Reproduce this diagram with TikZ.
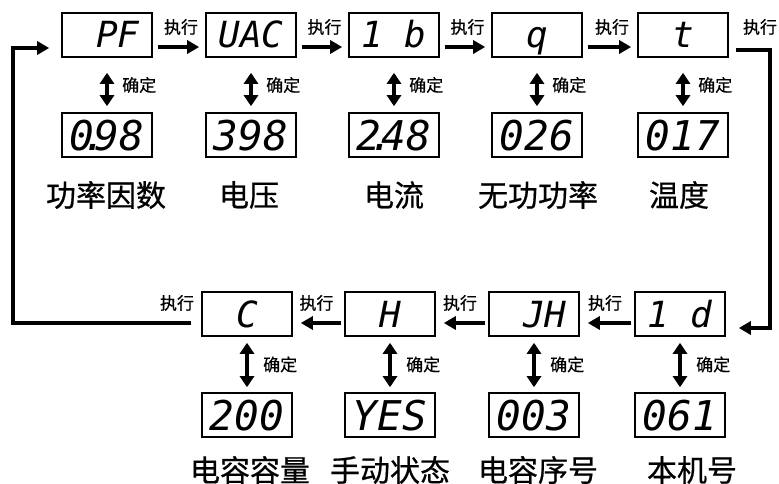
\documentclass[tikz,border=0pt]{standalone}
\usepackage{fontspec}
\newfontfamily\cjk[FakeBold=0.6]{Noto Sans CJK SC}
\newfontfamily\seg{DejaVu Sans Mono}
\usetikzlibrary{arrows.meta,calc}
\newcommand\dotk{\kern-0.3em.\kern-0.3em}
\begin{document}
\begin{tikzpicture}[x=1pt,y=-1pt,
  disp/.style={draw, line width=1.6pt, minimum width=90pt, minimum height=44pt, inner sep=0pt,
    text height=26pt, text depth=0pt, font=\seg\itshape\fontsize{36}{36}\selectfont},
  valbox/.style={disp, text height=30pt, font=\seg\itshape\fontsize{41}{41}\selectfont},
  flow/.style={line width=4pt, line join=miter, -{Triangle[length=12pt,width=13pt]}},
  biarrow/.style={line width=4pt, {Triangle[length=11pt,width=14pt]}-{Triangle[length=11pt,width=14pt]}},
  lbl/.style={font=\cjk\fontsize{17}{17}\selectfont, inner sep=0pt},
  cname/.style={font=\cjk\fontsize{30}{30}\selectfont, inner sep=0pt}]
\useasboundingbox (0,0) rectangle (779,484);
% top row
\node[disp] (pf)  at (107,35) {\hphantom{0}PF};
\node[disp] (uac) at (251,35) {UAC};
\node[disp] (ib)  at (394,35) {1\hphantom{0}b};
\node[disp] (q)   at (537,35) {\hphantom{0}q\hphantom{0}};
\node[disp] (t)   at (683,35) {\hphantom{0}t\hphantom{0}};
\node[valbox] (pfv)  at (107,135) {0\dotk98};
\node[valbox] (uacv) at (251,135) {398};
\node[valbox] (ibv)  at (394,135) {2\dotk48};
\node[valbox] (qv)   at (537,135) {026};
\node[valbox] (tv)   at (683,135) {017};
% bottom row
\node[disp] (c)  at (247,314) {\hphantom{0}C\hphantom{0}};
\node[disp] (h)  at (390,314) {\hphantom{0}H\hphantom{0}};
\node[disp] (jh) at (534,314) {\hphantom{0}JH};
\node[disp] (id) at (680,314) {1\hphantom{0}d};
\node[valbox] (cv)  at (247,415) {200};
\node[valbox] (hv)  at (390,415) {YES};
\node[valbox] (jhv) at (534,415) {003};
\node[valbox] (idv) at (680,415) {061};
% double arrows
\foreach \a/\b in {pf/pfv,uac/uacv,ib/ibv,q/qv,t/tv}{
  \draw[biarrow, shorten <=15pt, shorten >=6pt] (\a.south) -- (\b.north);
  \node[lbl, anchor=west] (ok-\a) at ([xshift=15pt]$(\a.south)!0.5!(\b.north)$) {确定};
}
\foreach \a/\b in {c/cv,h/hv,jh/jhv,id/idv}{
  \draw[biarrow, shorten <=6pt, shorten >=5pt] (\a.south) -- (\b.north);
  \node[lbl, anchor=west] (ok-\a) at ([xshift=16pt]$(\a.south)!0.5!(\b.north)$) {确定};
}
% top horizontal arrows
\foreach \a/\b in {pf/uac,uac/ib,ib/q,q/t}{
  \draw[flow, shorten <=5pt, shorten >=6pt] ([yshift=-12pt]\a.east) -- ([yshift=-12pt]\b.west);
  \node[lbl] (ex-\a) at ([xshift=2pt,yshift=8pt]$(\a.east)!0.5!(\b.west)$) {执行};
}
% bottom horizontal arrows
\foreach \a/\b in {h/c,jh/h,id/jh}{
  \draw[flow, shorten <=3pt, shorten >=8pt] ([yshift=-9pt]\a.west) -- ([yshift=-9pt]\b.east);
  \node[lbl] (ex-\a) at ([xshift=-2pt,yshift=11pt]$(\a.west)!0.5!(\b.east)$) {执行};
}
% loops
\coordinate (ll) at (13,323);
\coordinate (lu) at (13,48);
\draw[flow, shorten <=10pt, shorten >=12pt] (ll -| c.west) -- (ll) -- (lu) -- (lu -| pf.west);
\node[lbl] (ex-c) at (177,303) {执行};
\coordinate (ru) at (770,50);
\coordinate (rd) at (770,328);
\draw[flow, shorten <=7pt, shorten >=13pt] (ru -| t.east) -- (ru) -- (rd) -- (rd -| id.east);
\node[lbl] (ex-t) at (760,27) {执行};
% names
\node[cname] (n1) at (106,195) {功率因数};
\node[cname] (n2) at (249,195) {电压};
\node[cname] (n3) at (394,195) {电流};
\node[cname] (n4) at (538,195) {无功功率};
\node[cname] (n5) at (679,195) {温度};
\node[cname] (n6) at (250,470) {电容容量};
\node[cname] (n7) at (390,470) {手动状态};
\node[cname] (n8) at (538,470) {电容序号};
\node[cname] (n9) at (692,470) {本机号};
\end{tikzpicture}
\end{document}
